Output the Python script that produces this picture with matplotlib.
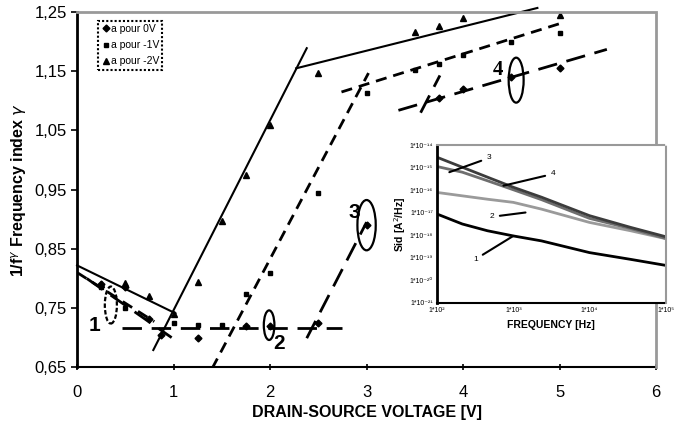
import matplotlib.pyplot as plt
from matplotlib.patches import Ellipse
import numpy as np

plt.rcParams['font.family'] = ['Liberation Sans', 'DejaVu Sans']

# measured points, 1/f^gamma index vs drain-source voltage
vds_0v = [0.25, 0.5, 0.75, 0.87, 1.25, 1.75, 2.0, 2.5, 3.0, 3.75, 4.0, 4.5, 5.0]
gam_0v = [0.79, 0.785, 0.732, 0.705, 0.70, 0.72, 0.72, 0.725, 0.89, 1.105, 1.12, 1.14, 1.155]

vds_1v = [0.25, 0.5, 1.0, 1.25, 1.5, 1.75, 2.0, 2.5, 3.0, 3.5, 3.75, 4.0, 4.5, 5.0]
gam_1v = [0.785, 0.75, 0.725, 0.722, 0.721, 0.774, 0.81, 0.944, 1.113, 1.152, 1.162, 1.178, 1.20, 1.214]

vds_2v = [0.25, 0.5, 0.75, 1.0, 1.25, 1.5, 1.75, 2.0, 2.5, 3.5, 3.75, 4.0, 5.0]
gam_2v = [0.79, 0.792, 0.771, 0.74, 0.794, 0.897, 0.975, 1.059, 1.147, 1.216, 1.226, 1.24, 1.245]

# fitted segments (x0, x1), (y0, y1)
fit_solid = [((0.0, 1.02), (0.822, 0.741)),
             ((0.79, 2.38), (0.679, 1.189)),
             ((2.27, 4.77), (1.155, 1.257))]
fit_dash = [((0.0, 0.80), (0.81, 0.727)),
            ((1.40, 3.02), (0.648, 1.147)),
            ((2.74, 5.05), (1.115, 1.233))]
fit_long = [((0.10, 0.98), (0.80, 0.70)),
            ((0.47, 2.75), (0.716, 0.716)),
            ((2.38, 3.0), (0.699, 0.895)),
            ((3.56, 3.76), (1.08, 1.143)),
            ((3.33, 5.49), (1.084, 1.187))]

# ellipses: label, center, width, height, label position
ell_lbl = ['1', '2', '3', '4']
ell_xy = [(0.35, 0.755), (1.99, 0.721), (3.0, 0.89), (4.55, 1.135)]
ell_w = [0.125, 0.11, 0.19, 0.155]
ell_h = [0.0625, 0.05, 0.085, 0.076]
lbl_xy = [(0.18, 0.72), (2.09, 0.69), (2.87, 0.912), (4.36, 1.152)]

# inset: noise spectra, log10 frequency and log10 Sid
inset_logf = [2.0, 2.33, 2.66, 3.0, 3.37, 4.0, 4.54, 5.04]
sid_1 = [-17.06, -17.5, -17.8, -18.03, -18.25, -18.77, -19.07, -19.36]
sid_2 = [-16.1, -16.25, -16.4, -16.54, -16.84, -17.43, -17.8, -18.18]
sid_3 = [-14.54, -14.98, -15.42, -15.87, -16.31, -17.13, -17.65, -18.1]
sid_4 = [-14.95, -15.2, -15.58, -15.98, -16.42, -17.25, -17.7, -18.18]

fig = plt.figure(figsize=(6.82, 4.32), dpi=100)
ax = fig.add_axes([0.113, 0.150, 0.849, 0.822])

ax.plot(vds_0v, gam_0v, 'D', color='black', ms=3.5, label='a pour 0V')
ax.plot(vds_1v, gam_1v, 's', color='black', ms=3.5, label='a pour -1V')
ax.plot(vds_2v, gam_2v, '^', color='black', ms=4, label='a pour -2V')

for xs, ys in fit_solid:
    ax.plot(xs, ys, '-', color='black', lw=1.5, clip_on=False)
for xs, ys in fit_dash:
    ax.plot(xs, ys, color='black', lw=2, dashes=(4, 2.5))
for xs, ys in fit_long:
    ax.plot(xs, ys, color='black', lw=2, dashes=(7, 3.5))

for i in range(len(ell_lbl)):
    e = Ellipse(ell_xy[i], ell_w[i], ell_h[i], fill=False, color='black', lw=1.6)
    if i == 0:
        e.set_linestyle((0, (2, 1)))
    ax.add_patch(e)
    fam = 'Liberation Serif' if i == 3 else 'Liberation Sans'
    ax.text(lbl_xy[i][0], lbl_xy[i][1], ell_lbl[i], fontsize=15, fontweight='bold',
            family=fam, ha='center', va='center')

ax.set_xlim(0, 6)
ax.set_ylim(0.65, 1.25)
ax.set_xticks(np.arange(0, 7, 1))
ax.set_yticks(np.arange(0.65, 1.26, 0.1))
ax.set_yticklabels([('%.2f' % v).replace('.', ',') for v in np.arange(0.65, 1.26, 0.1)])
ax.tick_params(axis='both', labelsize=12, length=4, width=1.2, direction='out')
ax.tick_params(axis='x', direction='inout', length=5, pad=10)
ax.spines['left'].set_linewidth(2)
ax.spines['bottom'].set_linestyle((0, (1, 1)))
ax.spines['bottom'].set_linewidth(1.5)
for s in ['top', 'right']:
    ax.spines[s].set_color('#999999')
    ax.spines[s].set_linestyle((0, (1, 1)))
    ax.spines[s].set_linewidth(2)

ax.set_xlabel('DRAIN-SOURCE VOLTAGE [V]', fontsize=11.5, fontweight='bold')
ax.set_ylabel(r'1/f$^{\gamma}$ Frequency index $\gamma$', fontsize=11.5, fontweight='bold')

leg = ax.legend(loc='upper left', bbox_to_anchor=(0.028, 0.99), fontsize=7.5,
                handletextpad=0.1, handlelength=0.8, borderpad=0.3, labelspacing=0.6,
                fancybox=False, framealpha=1)
leg.get_frame().set_edgecolor('black')
leg.get_frame().set_linestyle((0, (1, 1)))
leg.get_frame().set_linewidth(1.5)

# inset
ins = fig.add_axes([0.641, 0.299, 0.335, 0.365])
ins.plot(inset_logf, sid_1, color='black', lw=2)
ins.plot(inset_logf, sid_2, color='#9a9a9a', lw=2)
ins.plot(inset_logf, sid_4, color='#6e6e6e', lw=2)
ins.plot(inset_logf, sid_3, color='#3c3c3c', lw=2)
ins.set_xlim(2, 5)
ins.set_ylim(-21, -14)
ins.set_xticks([2, 3, 4, 5])
ins.set_xticklabels(['1*10²', '1*10³', '1*10⁴', '1*10⁵'])
ins.set_yticks(range(-21, -13))
ins.set_yticklabels(['1*10⁻%s' % s for s in ['²¹', '²⁰', '¹⁹', '¹⁸', '¹⁷', '¹⁶', '¹⁵', '¹⁴']])
ins.tick_params(labelsize=5, length=0, pad=3)
ins.spines['left'].set_linewidth(2)
ins.spines['bottom'].set_linestyle((0, (1, 1)))
ins.spines['bottom'].set_linewidth(1.5)
for s in ['top', 'right']:
    ins.spines[s].set_color('#999999')
    ins.spines[s].set_linestyle((0, (1, 1)))
    ins.spines[s].set_linewidth(1.5)
ins.set_xlabel('FREQUENCY [Hz]', fontsize=7.5, fontweight='bold')
ins.set_ylabel('Sid [A$^{2}$/Hz]', fontsize=7.5, fontweight='bold', labelpad=1)

ins_lbl = ['3', '4', '2', '1']
ins_txt = [(2.68, -14.57), (3.52, -15.28), (2.72, -17.18), (2.5, -19.07)]
ins_tip = [(2.16, -15.2), (2.87, -15.8), (3.16, -16.99), (3.0, -18.03)]
for i in range(4):
    ins.annotate(ins_lbl[i], xy=ins_tip[i], xytext=ins_txt[i], fontsize=6,
                 ha='center', va='center',
                 arrowprops=dict(arrowstyle='-', color='black', lw=1.5, shrinkA=2, shrinkB=0))

fig.savefig('out.png', dpi=100)
